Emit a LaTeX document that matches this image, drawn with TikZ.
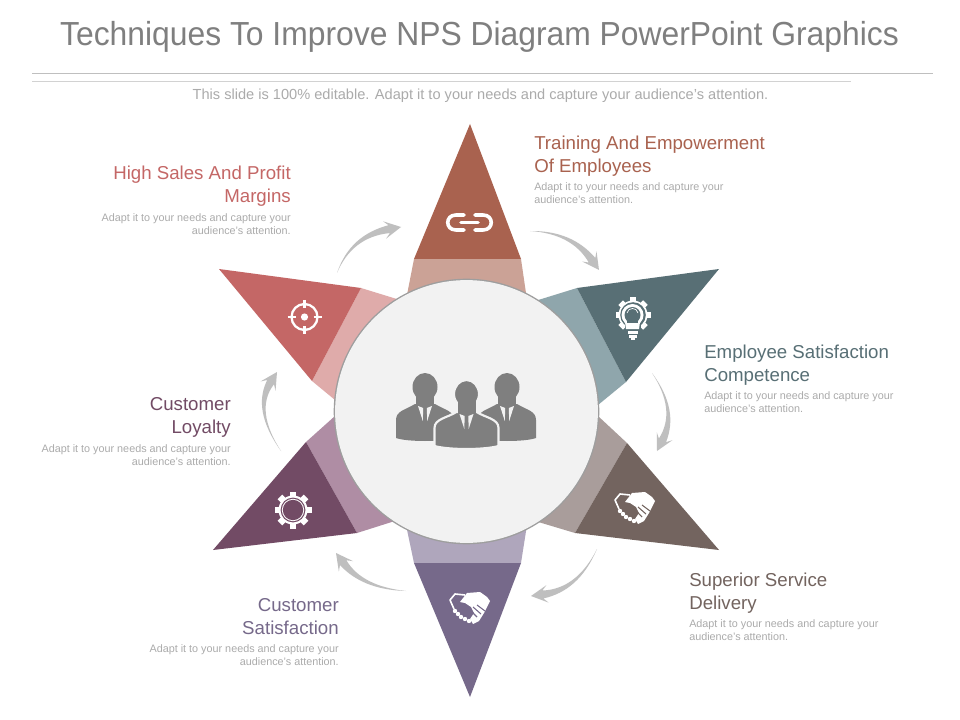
\documentclass[tikz,border=0pt]{standalone}
\usepackage{fontspec}
\setmainfont{Liberation Sans}
\newfontfamily\titlefont[FakeStretch=0.955]{Liberation Sans}
\usetikzlibrary{calc}
\definecolor{ctop}{HTML}{A9624F}\definecolor{ctopl}{HTML}{CBA296}
\definecolor{cred}{HTML}{C46766}\definecolor{credl}{HTML}{DFABAA}
\definecolor{cteal}{HTML}{586F75}\definecolor{ctealb}{HTML}{8FA6AC}
\definecolor{cbrn}{HTML}{73645F}\definecolor{cbrnl}{HTML}{A99D9B}
\definecolor{cpur}{HTML}{76698A}\definecolor{cpurl}{HTML}{AFA6BC}
\definecolor{cplm}{HTML}{724B65}\definecolor{cplml}{HTML}{AF8DA4}
\definecolor{carr}{HTML}{BFBFBF}\definecolor{cbody}{HTML}{ABABAB}
\definecolor{chead}{HTML}{7F7F7F}\definecolor{cdisc}{HTML}{F2F2F2}\definecolor{cman}{HTML}{7F7F7F}
\tikzset{
  x=0.75pt,y=-0.75pt,
  headr/.style={anchor=north east,align=right,inner sep=0pt,font=\fontsize{14}{17.25}\selectfont},
  headl/.style={anchor=north west,align=left,inner sep=0pt,font=\fontsize{14}{17.25}\selectfont},
  bodyr/.style={anchor=north east,align=right,inner sep=0pt,text=cbody,font=\fontsize{8.1}{9.75}\selectfont},
  bodyl/.style={anchor=north west,align=left,inner sep=0pt,text=cbody,font=\fontsize{8.1}{9.75}\selectfont},
  icon/.style={white,line width=2.7pt,line cap=round,line join=round},
}
\newcommand{\garrow}[4]{%
  \coordinate (#1t) at #2; \coordinate (#1c) at #3; \coordinate (#1h) at #4;
  \coordinate (#1n) at ($(#1h)!9pt!(#1c)$);
  \coordinate (#1b) at ($(#1h)!12.5pt!(#1c)$);
  \coordinate (#1p) at ($(#1c)!2pt!90:(#1h)$);
  \coordinate (#1q) at ($(#1c)!2pt!-90:(#1h)$);
  \fill[carr] (#1t) .. controls ($(#1t)!0.667!(#1p)$) and ($(#1n)!0.667!(#1p)$) .. ($(#1n)!3pt!90:(#1h)$)
    -- ($(#1b)!6.6pt!90:(#1h)$) -- (#1h) -- ($(#1b)!6.6pt!-90:(#1h)$) -- ($(#1n)!3pt!-90:(#1h)$)
    .. controls ($(#1n)!0.667!(#1q)$) and ($(#1t)!0.667!(#1q)$) .. (#1t) -- cycle;
}
\newcommand{\gearicon}[4]{% cx cy discradius outerradius
  \foreach \a in {0,45,...,315}{
    \fill[white,rotate around={\a:(#1,#2)}] (#1-3.2,#2) rectangle (#1+3.2,#2-#4);
  }
  \fill[white] (#1,#2) circle [radius=#3];
}
\newcommand{\hands}[3]{% ox oy bg
  \begin{scope}[shift={(#1,#2)}]
    \draw[white,line width=1.2pt,line join=round] (25,15) -- (15,14) -- (10,20) -- (14,29);
    \fill[white] (20,22) -- (27,13) -- (40,12) -- (47,17) -- (50,21) -- (44,33) -- (39,41) -- (33,44) -- (30,39) -- (34,33) -- (31,27) -- (25,23) -- cycle;
    \foreach \p/\q in {15/31,18/34,21/37,25/39,29/41}{\fill[white] (\p,\q) circle [radius=2.2];}
    \draw[#3,line width=0.8pt] (29,29) -- (37,37) (33,27) -- (41,34) (37,25) -- (45,31);
  \end{scope}
}
\newcommand{\man}[5]{% cx headcy bodytop halfwidth outline
  \path[fill=cman,draw=#5,line width=1.6pt] (#1-#4,#3+34) -- (#1-#4,#3+16) .. controls (#1-#4,#3+7) and (#1-20,#3+6) .. (#1-10,#3)
    -- (#1+10,#3) .. controls (#1+20,#3+6) and (#1+#4,#3+7) .. (#1+#4,#3+16)
    -- (#1+#4,#3+34) .. controls (#1+18,#3+38) and (#1-18,#3+38) .. (#1-#4,#3+34) -- cycle;
  \path[fill=cman,draw=#5,line width=1.6pt] (#1,#2) ellipse [x radius=12.5,y radius=14];
  \fill[cman] (#1-9,#2+6) rectangle (#1+9,#3+4);
  \fill[cdisc] (#1-7,#3+2) -- (#1-1.8,#3+4) -- (#1-2.2,#3+17) -- cycle;
  \fill[cdisc] (#1+7,#3+2) -- (#1+1.8,#3+4) -- (#1+2.2,#3+17) -- cycle;
}
\begin{document}
\begin{tikzpicture}
\useasboundingbox (0,0) rectangle (960,720);
\fill[white] (0,0) rectangle (960,720);
% title block
\node[text=chead,font=\titlefont\fontsize{25}{30}\selectfont,inner sep=0pt] (title) at (479.5,37) {Techniques To Improve NPS Diagram PowerPoint Graphics};
\coordinate (ruleaL) at (32,73); \coordinate (ruleaR) at (933,73);
\coordinate (rulebL) at (32,81); \coordinate (rulebR) at (851,81);
\draw[color=carr,line width=0.6pt] (ruleaL) -- (ruleaR);
\draw[color=carr!70,line width=0.6pt] (rulebL) -- (rulebR);
\node[text=cbody,font=\fontsize{10.95}{12}\selectfont,inner sep=0pt] (sub) at (480.5,95.5) {This slide is 100\% editable. Adapt it to your needs and capture your audience's attention.};
% bands
\fill[ctopl] (414,259) -- (521,259) -- (527,300) -- (406,300) -- cycle;
\fill[credl] (361,288) -- (312,381) -- (335,400) -- (400,300) -- cycle;
\fill[ctealb] (577,288) -- (626,382) -- (598,405) -- (535,301) -- cycle;
\fill[cbrnl] (627,443) -- (575,533) -- (535,521) -- (598,416) -- cycle;
\fill[cpurl] (414,563) -- (521,563) -- (527,525) -- (406,525) -- cycle;
\fill[cplml] (306,442) -- (357,533) -- (398,520) -- (335,416) -- cycle;
% triangles
\fill[ctop] (470,124) -- (521,259) -- (414,259) -- cycle;
\fill[cred] (219,269) -- (361,288) -- (312,381) -- cycle;
\fill[cteal] (719,269) -- (626,382) -- (577,288) -- cycle;
\fill[cbrn] (719,550) -- (575,533) -- (627,443) -- cycle;
\fill[cpur] (470,697) -- (414,563) -- (521,563) -- cycle;
\fill[cplm] (213,550) -- (306,442) -- (357,533) -- cycle;
% central disc
\fill[black!38] (466.5,411.5) circle [radius=132.8];
\fill[cdisc] (466.5,411.5) circle [radius=131.4];
% arrows
\garrow{aa}{(337,273)}{(351,236)}{(401,227)}
\garrow{ab}{(530,231)}{(572,232)}{(599,270)}
\garrow{ac}{(652,373)}{(678,410)}{(657,451)}
\garrow{ad}{(597,549)}{(578,590)}{(531,596)}
\garrow{ae}{(406,591)}{(362,588)}{(336,553)}
\garrow{af}{(281,451)}{(253,410)}{(277,372)}
% chain icon
\draw[icon] (464,215) -- (456,215) .. controls (445,215) and (445,230) .. (456,230) -- (464,230);
\draw[icon] (475,215) -- (483,215) .. controls (494,215) and (494,230) .. (483,230) -- (475,230);
\draw[icon] (461,222.5) -- (478,222.5);
% target icon
\draw[white,line width=1.7pt] (304.5,317) circle [radius=13];
\fill[white] (304.5,317) circle [radius=3.6];
\draw[white,line width=1.7pt] (304.5,300) -- (304.5,308) (304.5,326) -- (304.5,334) (287.5,317) -- (295.5,317) (313.5,317) -- (321.5,317);
% bulb gear icon
\gearicon{633}{315}{14.5}{17.5}
\fill[cteal] (625,325) rectangle (641,340);
\fill[cteal] (633,315) circle [radius=12.8];
\fill[white] (632.5,315) circle [radius=11];
\fill[cteal] (632.5,315) circle [radius=8];
\draw[white,line width=0.5pt] (627,313) .. controls (628,307) and (637,307) .. (638,313);
\fill[white] (625,322) -- (640,322) -- (639,329) -- (626,329) -- cycle;
\fill[cteal] (627,319) rectangle (638,323);
\fill[white] (627.5,331) rectangle (637.5,334);
\fill[white] (628.5,335) rectangle (636.5,338);
\fill[white] (630.5,338) rectangle (634.5,340);
% handshakes
\hands{605}{480}{cbrn}
\hands{440}{580}{cpur}
% plum gear
\gearicon{293}{510}{14.5}{18.5}
\fill[cplm] (293,510) circle [radius=12.4];
\fill[white] (293,510) circle [radius=11.2];
\fill[cplm] (293,510) circle [radius=10.2];
% people
\man{425}{387}{404}{29}{none}
\man{507}{387}{404}{29}{none}
\man{466.5}{394}{412}{32}{cdisc}
% labels
\node[headr,text=cred] (h1) at (291,166) {High Sales And Profit\\Margins};
\node[bodyr] (b1) at (291,213) {Adapt it to your needs and capture your\\audience's attention.};
\node[headl,text=ctop] (h2) at (534,136) {Training And Empowerment\\Of Employees};
\node[bodyl] (b2) at (534,182) {Adapt it to your needs and capture your\\audience's attention.};
\node[headl,text=cteal] (h3) at (704,345) {Employee Satisfaction\\Competence};
\node[bodyl] (b3) at (704,391) {Adapt it to your needs and capture your\\audience's attention.};
\node[headl,text=cbrn] (h4) at (689,573) {Superior Service\\Delivery};
\node[bodyl] (b4) at (689,619) {Adapt it to your needs and capture your\\audience's attention.};
\node[headr,text=cpur] (h5) at (339,598) {Customer\\Satisfaction};
\node[bodyr] (b5) at (339,644) {Adapt it to your needs and capture your\\audience's attention.};
\node[headr,text=cplm] (h6) at (231,397) {Customer\\Loyalty};
\node[bodyr] (b6) at (231,444) {Adapt it to your needs and capture your\\audience's attention.};
\end{tikzpicture}
\end{document}
